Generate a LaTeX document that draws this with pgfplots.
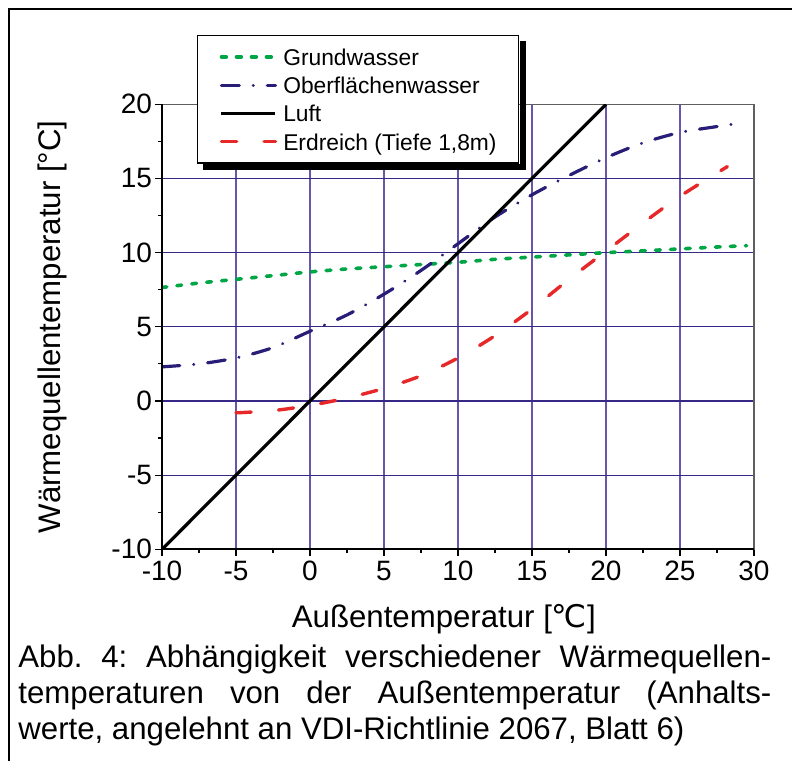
\documentclass[border=0pt]{standalone}
\usepackage{fontspec}
\setmainfont{Liberation Sans}
\newfontfamily\djv{DejaVu Sans}
\usepackage{pgfplots}
\pgfplotsset{compat=1.18}

\definecolor{gridx}{RGB}{105,85,170}
\definecolor{gridy}{RGB}{55,40,135}
\definecolor{gw}{RGB}{0,165,70}
\definecolor{ow}{RGB}{40,30,120}
\definecolor{ed}{RGB}{230,40,40}
\definecolor{axgray}{RGB}{95,95,95}

\begin{document}
\frenchspacing
\begin{tikzpicture}
\useasboundingbox (-81pt,-105.35pt) rectangle (315pt,274.65pt);
\begin{axis}[
  name=ax,
  at={(0pt,0pt)}, anchor=south west,
  scale only axis, width=296pt, height=222.5pt,
  xmin=-10, xmax=30, ymin=-10, ymax=20,
  xtick={-10,-5,...,30}, ytick={-10,-5,...,20},
  minor tick num=1,
  xtick pos=bottom, ytick pos=left,
  tick align=outside,
  major tick length=3.5pt, minor tick length=1.8pt,
  tick style={black, line width=0.6pt},
  grid=major,
  every major x grid/.style={gridx, line width=0.6pt},
  every major y grid/.style={gridy, line width=0.6pt},
  axis line style={axgray, line width=0.7pt},
  /pgf/number format/assume math mode=true,
  ticklabel style={font=\fontsize{14}{16}\selectfont},
  xticklabel style={yshift=1pt},
  yticklabel style={xshift=2pt},
  xlabel={Außentemperatur [{\djv ℃}]},
  ylabel={Wärmequellentemperatur [°C]},
  label style={font=\fontsize{15.6}{18}\selectfont},
  xlabel style={at={(axis description cs:0.476,-0.1746)}, anchor=base},
  ylabel style={at={(axis description cs:-0.1858,0.5)}, anchor=center},
  legend style={
    name=leg,
    at={(axis description cs:0.0591,1.1557)}, anchor=north west,
    draw=black, line width=0.7pt, fill=white,
    font=\fontsize{11.4}{13}\selectfont,
    inner xsep=11pt, inner ysep=3.5pt,
    nodes={inner sep=0pt, text height=11.2pt, text depth=2.95pt},
  },
  legend cell align=left,
  legend image code/.code={\draw[#1] (0pt,0pt) -- (27pt,0pt); \path (30pt,0pt);},
]
% Grundwasser
\addplot[gw, line width=1.8pt, line cap=round, dash pattern=on 2.4pt off 5.1pt, smooth] coordinates {
  (-10,7.65) (-7.5,7.95) (-5,8.2) (-2.5,8.45) (0,8.7) (2.5,8.9) (5,9.05)
  (7.5,9.2) (10,9.35) (12.5,9.55) (15,9.7) (17.5,9.85) (20,10.0)
  (22.5,10.12) (25,10.25) (27.5,10.38) (29.5,10.47)
};
\addlegendentry{Grundwasser}
% Oberflaechenwasser
\addplot[ow, line width=1.6pt, line cap=round, dash pattern=on 8.9pt off 7pt on 0.01pt off 7pt, smooth] coordinates {
  (-10,2.3) (-7.5,2.5) (-5,2.9) (-2.5,3.6) (0,4.7) (2.5,5.8) (5,7.2)
  (7.5,8.8) (10,10.6) (12.5,12.4) (15,13.9) (17.5,15.2) (20,16.4)
  (22.5,17.4) (25,18.1) (27.5,18.5) (29.2,18.75)
};
\addlegendentry{Oberflächenwasser}
% Luft
\addplot[black, line width=1.6pt] coordinates {(-10,-10) (20,20)};
\addlegendentry{Luft}
% Erdreich
\addplot[ed, line width=1.7pt, line cap=round, dash pattern=on 7.6pt off 13.7pt, smooth] coordinates {
  (-5,-0.8) (-2.5,-0.65) (0,-0.3) (2.5,0.2) (5,0.85) (7.5,1.7) (10,2.9)
  (12.5,4.4) (15,6.2) (17.5,8.2) (20,10.1) (22.5,12.0) (25,13.8) (28.2,15.8)
};
\addlegendentry{Erdreich (Tiefe 1,8m)}
\end{axis}
% legend shadow and axis frame
\fill[black] ([xshift=3pt,yshift=-3.3pt]leg.south west) rectangle ([xshift=3.3pt,yshift=-0.35pt]leg.south east);
\fill[black] ([xshift=0.35pt,yshift=-3pt]leg.north east) rectangle ([xshift=3.3pt,yshift=-3.3pt]leg.south east);
\draw[black, line width=1pt] (ax.north west) -- (ax.south west) -- (ax.south east);
\draw[black, line width=1pt] (-76.25pt,-106pt) -- (-76.25pt,270.15pt) -- (316pt,270.15pt);
\node[anchor=base west, inner sep=0pt, text width=376.5pt, align=justify,
      font=\fontsize{15.6}{18}\selectfont] at (-72pt,-58.85pt)
  {Abb.~4: Abhängigkeit verschiedener Wärmequellen-\linebreak temperaturen von der Außentemperatur (Anhalts-\linebreak werte, angelehnt an VDI-Richtlinie 2067, Blatt~6)};
\end{tikzpicture}
\end{document}
